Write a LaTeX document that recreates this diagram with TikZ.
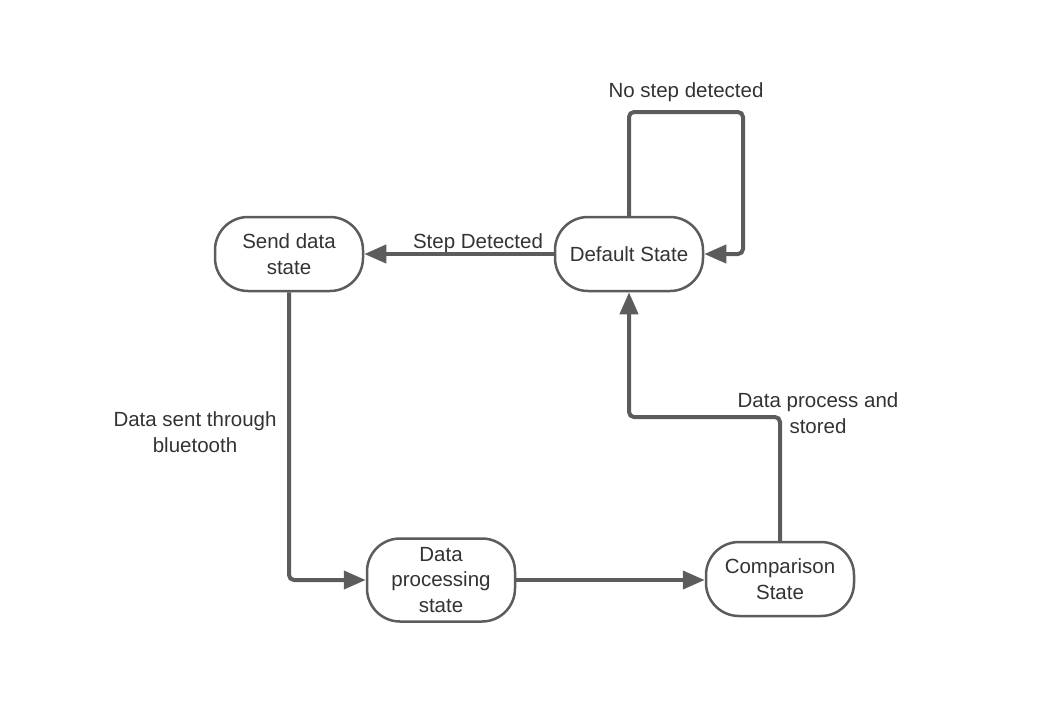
\documentclass[tikz,border=0pt]{standalone}
\usepackage{fontspec}
\setmainfont{Liberation Sans}
\usetikzlibrary{arrows.meta}
\definecolor{linegray}{HTML}{5C5C5C}
\definecolor{textgray}{HTML}{333333}
\tikzset{
  statebox/.style={draw=linegray, line width=2.5pt, rounded corners=33pt, fill=white,
    minimum width=148pt, minimum height=74pt, align=center, text=textgray,
    font=\fontsize{20.5}{25.5}\selectfont, inner sep=0pt},
  edge/.style={draw=linegray, line width=4pt, rounded corners=5pt,
    -{Triangle[length=22pt,width=18pt]}},
  lbl/.style={text=textgray, align=center, font=\fontsize{20.5}{25.5}\selectfont, inner sep=0pt}
}
\begin{document}
\begin{tikzpicture}[x=1pt,y=1pt]
\useasboundingbox (0,0) rectangle (1049,-705);
\node[statebox] (send) at (289,-254) {Send data\\state};
\node[statebox] (def) at (629,-254) {Default State};
\node[statebox, minimum height=83pt] (dp) at (441,-580) {Data\\processing\\state};
\node[statebox] (comp) at (780,-579) {Comparison\\State};
\coordinate (l1) at (743,-112);
\coordinate (c1) at (780,-417);
\draw[edge] (def.west) -- (send.east);
\draw[edge] (def.north) |- (l1) |- (def.east);
\draw[edge] (send.south) |- (dp.west);
\draw[edge] (dp.east) -- (dp.east -| comp.west);
\draw[edge] (comp.north) -- (c1) -| (def.south);
\node[lbl] (tstep) at (478,-243) {Step Detected};
\node[lbl] (tno) at (686,-92) {No step detected};
\node[lbl] (tsent) at (195,-432) {Data sent through\\bluetooth};
\node[lbl] (tproc) at (818,-413) {Data process and\\stored};
\end{tikzpicture}
\end{document}
